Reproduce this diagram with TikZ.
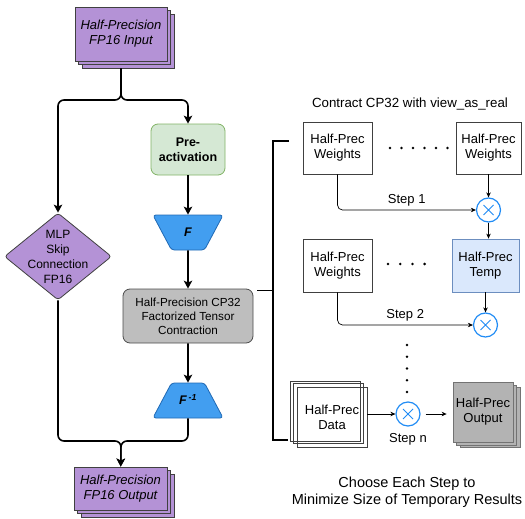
\documentclass[tikz,border=0pt]{standalone}
\usepackage{fontspec}
\setmainfont{Liberation Sans}
\usetikzlibrary{arrows.meta,shapes.geometric,shadows}
\definecolor{lilac}{RGB}{180,146,214}
\definecolor{mint}{RGB}{213,232,212}
\definecolor{mintline}{RGB}{130,179,102}
\definecolor{sky}{RGB}{66,158,240}
\definecolor{skyline}{RGB}{32,105,180}
\definecolor{ctgray}{RGB}{190,190,190}
\definecolor{outgray}{RGB}{179,179,179}
\definecolor{tmpblue}{RGB}{218,232,252}
\definecolor{tmpline}{RGB}{108,142,191}
\definecolor{mulblue}{RGB}{33,140,245}
\begin{document}
\begin{tikzpicture}[x=1pt,y=-1pt,>={Stealth[length=8pt,width=8.5pt,inset=2pt]},
  flow/.style={->,line width=1.6pt,rounded corners=6pt},
  link/.style={->,>={Stealth[length=5pt,width=4.5pt]},line width=0.7pt,rounded corners=5pt},
  stack/.style={draw=black!75,fill=lilac,line width=0.8pt,inner sep=0pt,align=center,
    font=\fontsize{13}{15}\selectfont\itshape,
    copy shadow={shadow xshift=7pt,shadow yshift=-7pt,fill=lilac,draw=black!75,line width=0.8pt},
    copy shadow={shadow xshift=3.5pt,shadow yshift=-3.5pt,fill=lilac,draw=black!75,line width=0.8pt}},
  trap/.style={trapezium,trapezium left angle=62,trapezium right angle=62,inner sep=0pt,
    text width=33pt,align=center,text height=21.5pt,text depth=13.5pt,
    fill=sky,draw=skyline,line width=0.8pt,rounded corners=3pt,
    font=\fontsize{12.5}{14}\selectfont\bfseries\itshape},
  prec/.style={draw=black!75,line width=0.8pt,inner sep=0pt,align=center,
    font=\fontsize{13}{15}\selectfont},
  mul/.style={circle,draw=mulblue,line width=1.2pt,fill=white,minimum size=24pt,inner sep=0pt,
    path picture={\draw[mulblue,line width=1pt] (path picture bounding box.center)
      +(-5,-5) -- +(5,5) +(-5,5) -- +(5,-5);}},
  lbl/.style={font=\fontsize{13}{15}\selectfont}]
\useasboundingbox (0,0) rectangle (525,519);
% left flow
\node[stack,minimum width=92pt,minimum height=54pt] (in) at (121,34) {Half-Precision\\FP16 Input};
\node[draw=mintline,fill=mint,line width=0.8pt,rounded corners=7pt,minimum width=74pt,minimum height=51pt,
  align=center,font=\fontsize{12.5}{15}\selectfont\bfseries] (pre) at (188,149.5) {Pre-\\activation};
\node[diamond,fill=lilac,draw=black!75,line width=0.8pt,rounded corners=3pt,minimum width=107pt,
  minimum height=87pt,inner sep=-9pt,align=center,font=\fontsize{12}{15}\selectfont] (mlp) at (58,256.5)
  {MLP\\Skip\\Connection\\FP16};
\node[trap,shape border rotate=180] (F) at (188,232.5) {F};
\node[fill=ctgray,draw=black!70,line width=0.8pt,rounded corners=7pt,minimum width=130pt,minimum height=54pt,
  align=center,font=\fontsize{11.7}{14}\selectfont] (ct) at (188,316) {Half-Precision CP32\\Factorized Tensor\\Contraction};
\node[trap] (Fi) at (188,400.5) {F\,\textsuperscript{-1}};
\node[stack,minimum width=93pt,minimum height=43pt] (out) at (120.5,488.5) {Half-Precision\\FP16 Output};
\coordinate (fk) at (121,100);
\coordinate (mg) at (121,441);
\draw[flow] ([yshift=-7pt]in.south) -- (fk) -| (mlp);
\draw[flow] ([yshift=-7pt]in.south) -- (fk) -| (pre);
\draw[flow] (pre) -- (F);
\draw[flow] (F) -- (ct);
\draw[flow] (ct) -- (Fi);
\draw[flow] (mlp) |- (mg) -- (out);
\draw[flow] (Fi) |- (mg) -- (out);
% bracket
\coordinate (bt) at (289,141);
\coordinate (bx) at (273,141);
\coordinate (bb) at (288,440);
\draw[line width=1.5pt] (bt) -- (bx) |- (bb);
\draw[line width=1.5pt] ([xshift=4pt,yshift=-2pt]ct.north east) -- ([yshift=-2pt]ct.north east -| bx);
% contraction steps
\node[font=\fontsize{13.3}{15}\selectfont] (ttl) at (410,104) {Contract CP32 with view\_as\_real};
\node[prec,minimum width=69pt,minimum height=52pt] (w1) at (337.5,148) {Half-Prec\\Weights};
\node[prec,minimum width=65pt,minimum height=52pt] (w2) at (488.5,148) {Half-Prec\\Weights};
\foreach \x in {0,...,5} \fill (390+11.5*\x,148) circle (1.4);%dots
\node[mul] (m1) at (488.5,210) {};
\draw[link] (w2) -- (m1);
\draw[link] (w1) |- (m1) node[pos=0.75,above,lbl] {Step 1};
\node[prec,minimum width=69pt,minimum height=53pt] (w3) at (337.5,265.5) {Half-Prec\\Weights};
\node[prec,fill=tmpblue,draw=tmpline,minimum width=67pt,minimum height=53pt] (tmp) at (485.5,265.5) {Half-Prec\\Temp};
\draw[link] (m1) -- (m1 |- tmp.north);
\foreach \x in {0,...,3} \fill (388+12.2*\x,264) circle (1.4);%dots
\node[mul] (m2) at (485.5,325) {};
\draw[link] (tmp) -- (m2);
\draw[link] (w3) |- (m2) node[pos=0.75,above,lbl] {Step 2};
\foreach \y in {0,...,4} \fill (407,345+11.75*\y) circle (1.4);%dots
\node[prec,minimum width=70pt,minimum height=60pt,
  copy shadow={shadow xshift=-7pt,shadow yshift=6pt,fill=none,draw=black!75,line width=0.8pt},
  copy shadow={shadow xshift=-3.5pt,shadow yshift=3.5pt,fill=none,draw=black!75,line width=0.8pt}]
  (data) at (332,417) {Half-Prec\\Data};
\node[mul] (m3) at (408,414) {};
\node[lbl] (sn) at (408,439) {Step n};
\node[prec,fill=outgray,draw=black!55,minimum width=60pt,minimum height=60pt,
  copy shadow={shadow xshift=7pt,shadow yshift=-5pt,fill=outgray,draw=black!55,line width=0.8pt},
  copy shadow={shadow xshift=3.5pt,shadow yshift=-3pt,fill=outgray,draw=black!55,line width=0.8pt}]
  (res) at (483,412) {Half-Prec\\Output};
\draw[link] (data.east |- m3) -- (m3);
\draw[link,shorten <=5pt,shorten >=6pt] (m3) -- (m3 -| res.west);
\node[align=center,font=\fontsize{14.5}{17}\selectfont] (note) at (407,492.5)
  {Choose Each Step to\\Minimize Size of Temporary Results};
\end{tikzpicture}
\end{document}
